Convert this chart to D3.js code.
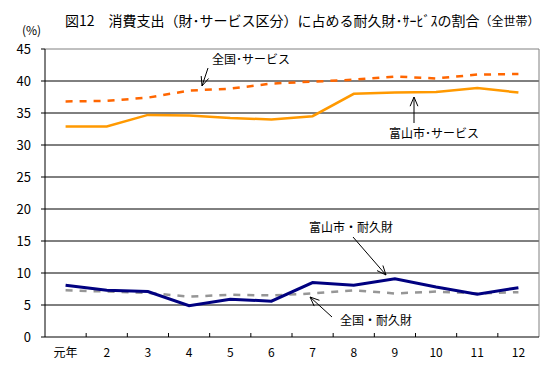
<!DOCTYPE html>
<html lang="ja">
<head>
<meta charset="UTF-8">
<title>図12</title>
<script src="https://d3js.org/d3.v7.min.js"></script>
<style>
  body { margin: 0; background: #fff; }
  text { font-family: "Noto Sans CJK JP", "DejaVu Sans", sans-serif; fill: #000; }
</style>
</head>
<body>
<div id="chart"></div>
<script>
// categories (year labels)
const years = ["元年", "2", "3", "4", "5", "6", "7", "8", "9", "10", "11", "12"];
const yTicks = [0, 5, 10, 15, 20, 25, 30, 35, 40, 45];

// series values (%)
const zenkokuService = [36.8, 36.9, 37.4, 38.5, 38.8, 39.6, 39.9, 40.2, 40.7, 40.4, 41.0, 41.1];
const toyamaService  = [32.9, 32.9, 34.7, 34.6, 34.2, 34.0, 34.5, 38.0, 38.2, 38.3, 38.9, 38.2];
const toyamaDurable  = [8.1, 7.3, 7.1, 4.9, 5.9, 5.6, 8.5, 8.1, 9.1, 7.8, 6.7, 7.7];
const zenkokuDurable = [7.3, 7.1, 6.9, 6.3, 6.6, 6.5, 6.8, 7.3, 6.8, 7.1, 6.8, 7.0];

const W = 549, H = 368;
const margin = { top: 49, right: 10, bottom: 31, left: 45 };
const iw = W - margin.left - margin.right;
const ih = H - margin.top - margin.bottom;

const svg = d3.select('#chart').append('svg')
  .attr('width', W).attr('height', H);

const g = svg.append('g')
  .attr('transform', `translate(${margin.left},${margin.top})`);

const x = d3.scaleBand().domain(years).range([0, iw]).padding(0);
const y = d3.scaleLinear().domain([0, 45]).range([ih, 0]);
const cx = i => x(years[i]) + x.bandwidth() / 2;

// gridlines
g.selectAll('.grid').data(yTicks.filter(t => t > 0 && t < 45)).enter()
  .append('line')
  .attr('x1', 0).attr('x2', iw)
  .attr('y1', d => y(d)).attr('y2', d => y(d))
  .attr('stroke', '#000').attr('stroke-width', 1);

// plot frame (top/right grey)
g.append('path')
  .attr('d', `M0,${y(45)}H${iw}V${ih}`)
  .attr('fill', 'none').attr('stroke', '#808080');

// y axis
g.append('line').attr('x1', 0).attr('x2', 0).attr('y1', 0).attr('y2', ih).attr('stroke', '#000');
g.selectAll('.ylab').data(yTicks).enter().append('text')
  .attr('x', -14).attr('y', d => y(d)).attr('dy', '0.35em')
  .attr('text-anchor', 'end').style('font-size', '13px')
  .text(d => d);
g.selectAll('.ytick').data(yTicks).enter().append('line')
  .attr('x1', -4).attr('x2', 0).attr('y1', d => y(d)).attr('y2', d => y(d)).attr('stroke', '#000');

// x axis
g.append('line').attr('x1', 0).attr('x2', iw).attr('y1', ih).attr('y2', ih).attr('stroke', '#000');
g.selectAll('.xtick').data(years.slice(1)).enter().append('line')
  .attr('x1', d => x(d)).attr('x2', d => x(d))
  .attr('y1', ih - 4).attr('y2', ih).attr('stroke', '#000');
g.selectAll('.xlab').data(years).enter().append('text')
  .attr('x', (d, i) => cx(i)).attr('y', ih + 20)
  .attr('text-anchor', 'middle').style('font-size', '12px')
  .text(d => d);

// lines
const line = d3.line().x((d, i) => cx(i)).y(d => y(d));
function drawSeries(data, color, width, dash) {
  g.append('path').datum(data)
    .attr('d', line)
    .attr('fill', 'none')
    .attr('stroke', color)
    .attr('stroke-width', width)
    .attr('stroke-dasharray', dash || null);
}
drawSeries(zenkokuDurable, '#969696', 2.5, '7,7');
drawSeries(toyamaDurable, '#000080', 3);
drawSeries(zenkokuService, '#FF6600', 2.5, '7,7');
drawSeries(toyamaService, '#FF9900', 2.5);

// annotations
function arrow(x1, y1, x2, y2) {
  g.append('line')
    .attr('x1', x1 - margin.left).attr('y1', y1 - margin.top)
    .attr('x2', x2 - margin.left).attr('y2', y2 - margin.top)
    .attr('stroke', '#000').attr('stroke-width', 1);
  const a = Math.atan2(y2 - y1, x2 - x1), L = 10, s = 0.4;
  [a + Math.PI - s, a + Math.PI + s].forEach(b => {
    g.append('line')
      .attr('x1', x2 - margin.left).attr('y1', y2 - margin.top)
      .attr('x2', x2 - margin.left + L * Math.cos(b)).attr('y2', y2 - margin.top + L * Math.sin(b))
      .attr('stroke', '#000').attr('stroke-width', 1);
  });
}
function label(t, xx, yy) {
  svg.append('text').attr('x', xx).attr('y', yy).attr('dy', '0.35em')
    .style('font-size', '12px').text(t);
}
label('全国･サービス', 212, 60);
arrow(208, 68, 202, 86);
label('富山市･サービス', 389, 134);
arrow(414, 123, 414, 97);
label('富山市・耐久財', 309, 228);
arrow(353, 237, 386, 275);
label('全国・耐久財', 340, 321);
arrow(332, 317, 310, 297);

// title
const title = svg.append('text').attr('x', 65).attr('y', 21).attr('dy', '0.35em')
  .style('font-size', '14px');
title.append('tspan').text('図12　消費支出（財･サービス区分）に占める耐久財･ｻｰﾋﾞｽの割合');
title.append('tspan').style('font-size', '12px').text('（全世帯）');
svg.append('text').attr('x', 22).attr('y', 31).attr('dy', '0.35em')
  .style('font-size', '12px').text('(%)');
</script>
</body>
</html>
